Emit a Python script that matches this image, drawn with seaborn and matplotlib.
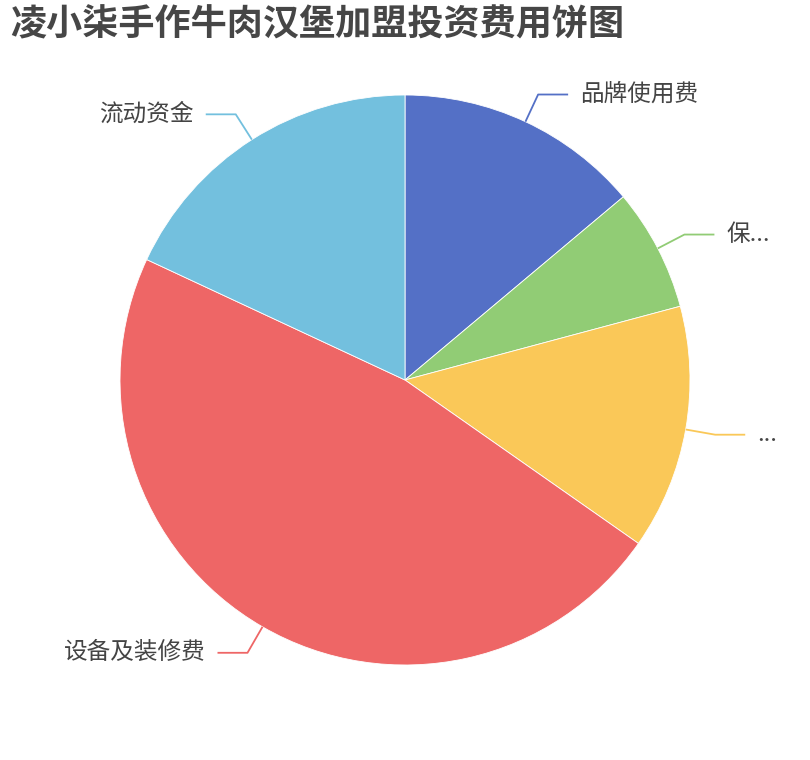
import matplotlib.pyplot as plt
import numpy as np
import seaborn as sns

# data
labels = ["品牌使用费", "保...", "...", "设备及装修费", "流动资金"]
values = [5, 2.5, 5, 17, 6.5]
colors = ["#5470c6", "#91cc75", "#fac858", "#ee6666", "#73c0de"]
title = "凌小柒手作牛肉汉堡加盟投资费用饼图"

sns.set_theme(style="white")
plt.rcParams['font.family'] = ['Noto Sans CJK SC', 'DejaVu Sans']

fig = plt.figure(figsize=(8.1, 7.6), dpi=100)
ax = fig.add_axes([0, 0, 1, 1])

cx, cy, r = 405, 380, 285
wedges, _ = ax.pie(values, colors=sns.color_palette(colors), startangle=90,
                   counterclock=False, center=(cx, cy), radius=r,
                   wedgeprops=dict(edgecolor='white', linewidth=0.6))

# leader lines + labels, echarts style
for w, lab, col in zip(wedges, labels, colors):
    mid = np.deg2rad((w.theta1 + w.theta2) / 2)
    x0, y0 = cx + r * np.cos(mid), cy + r * np.sin(mid)
    x1, y1 = cx + 315 * np.cos(mid), cy + 315 * np.sin(mid)
    side = 1 if np.cos(mid) >= 0 else -1
    x2 = x1 + side * 30
    ax.plot([x0, x1, x2], [y0, y1, y1], color=col, lw=1.3, solid_capstyle='butt')
    ax.text(x2 + side * 12, y1, lab, fontsize=17, color='#444444',
            ha='left' if side > 0 else 'right', va='center')

ax.set_xlim(0, 810)
ax.set_ylim(0, 760)
ax.set_aspect('equal')
ax.axis('off')

fig.text(10 / 810, 1 - 25 / 760, title, fontsize=26, fontweight='bold',
         color='#464646', ha='left', va='center')

fig.savefig("out.png", dpi=100)
